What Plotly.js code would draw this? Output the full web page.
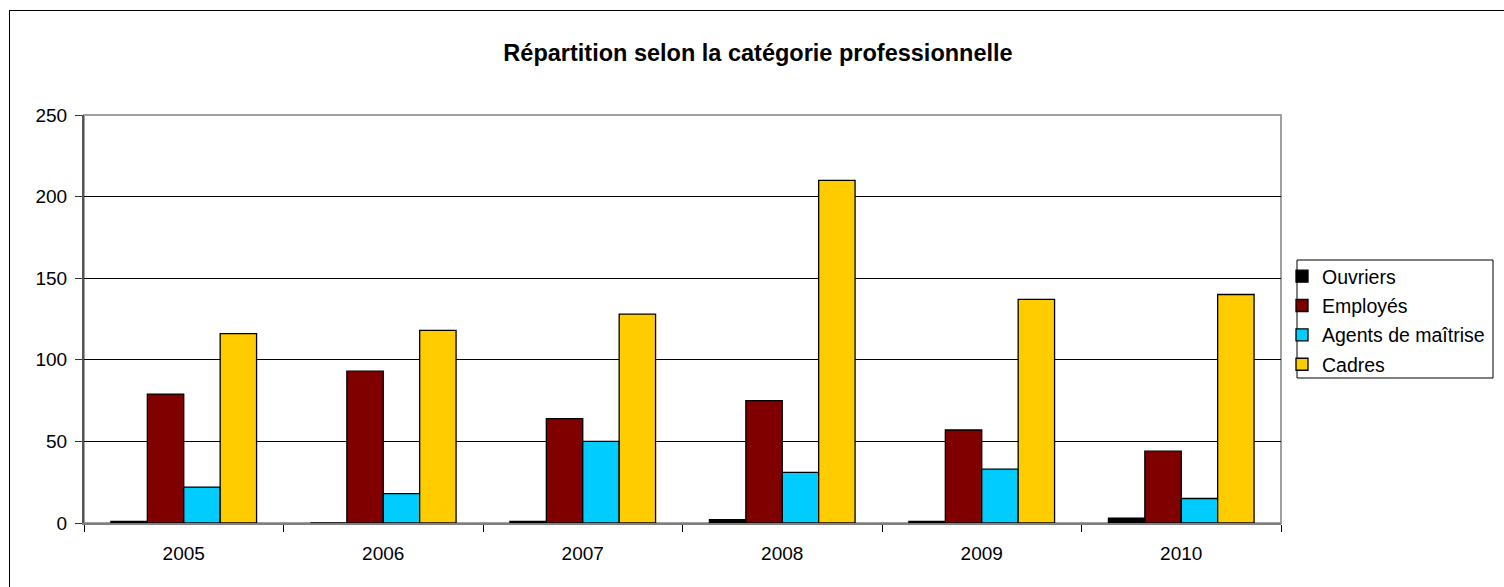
<!DOCTYPE html>
<html>
<head>
<meta charset="utf-8">
<script src="https://cdn.plot.ly/plotly-3.0.1.min.js"></script>
<style>
  html, body { margin: 0; padding: 0; width: 1504px; height: 587px; overflow: hidden; background: #fff; }
  #frame { position: absolute; left: 9px; top: 10px; width: 1510px; height: 600px; border: 1px solid #000; box-sizing: border-box; }
  #chart { position: absolute; left: 0; top: 0; width: 1504px; height: 587px; }
</style>
</head>
<body>
<div id="frame"></div>
<div id="chart"></div>
<script>
const years = ['2005', '2006', '2007', '2008', '2009', '2010'];
const ouvriers = [1, 0, 1, 2, 1, 3];
const employes = [79, 93, 64, 75, 57, 44];
const agents = [22, 18, 50, 31, 33, 15];
const cadres = [116, 118, 128, 210, 137, 140];
const seriesNames = ['Ouvriers', 'Employés', 'Agents de maîtrise', 'Cadres'];
const seriesColors = ['#000000', '#800000', '#00CCFF', '#FFCC00'];
const yTicks = [0, 50, 100, 150, 200, 250];

const allSeries = [ouvriers, employes, agents, cadres];
const traces = allSeries.map((vals, i) => ({
  type: 'bar',
  x: years,
  y: vals,
  name: seriesNames[i],
  legendgroup: 'g' + i,
  marker: { color: seriesColors[i], line: { color: '#000', width: 1.3 } },
  hoverinfo: 'x+y+name'
}));

const FONT = 'Liberation Sans, Arial, sans-serif';
const L = 84, T = 115, W = 1197, H = 408;
const px = v => (v - L) / W;
const py = v => (T + H - v) / H;

const layout = {
  width: 1504,
  height: 587,
  margin: { l: 84, r: 223, t: 115, b: 64 },
  paper_bgcolor: 'rgba(0,0,0,0)',
  plot_bgcolor: '#fff',
  barmode: 'group',
  bargap: 0.27,
  bargroupgap: 0,
  font: { family: FONT, color: '#000', size: 19 },
  title: {
    text: '<b>Répartition selon la catégorie professionnelle</b>',
    font: { family: FONT, size: 23.5, color: '#000' },
    x: 0.504, xref: 'container', xanchor: 'center',
    y: 1 - 53 / 587, yref: 'container', yanchor: 'middle'
  },
  xaxis: {
    type: 'category',
    showgrid: false,
    showline: true, linecolor: '#808080', linewidth: 2,
    ticks: 'outside', tickson: 'boundaries', ticklen: 7, tickcolor: '#000', tickwidth: 1,
    ticklabelstandoff: 12,
    tickfont: { size: 19 },
    zeroline: false
  },
  yaxis: {
    range: [0, 250],
    tickvals: yTicks,
    ticktext: yTicks.map(String),
    showgrid: true, gridcolor: '#000', gridwidth: 1,
    showline: true, linecolor: '#555', linewidth: 2,
    ticks: 'outside', ticklen: 7, tickcolor: '#333', tickwidth: 1,
    ticklabelstandoff: 4,
    tickfont: { size: 19 },
    zeroline: false,
    fixedrange: true
  },
  legend: {
    x: px(1282), xanchor: 'left',
    y: py(257), yanchor: 'top',
    borderwidth: 0,
    bgcolor: 'rgba(0,0,0,0)',
    font: { size: 19.5, family: FONT },
    tracegroupgap: 1,
    itemwidth: 30
  },
  shapes: [
    { type: 'rect', xref: 'paper', yref: 'paper', x0: 0, x1: 1, y0: 0, y1: 1,
      line: { color: '#a0a0a0', width: 2 }, fillcolor: 'rgba(0,0,0,0)', layer: 'below' },
    { type: 'rect', xref: 'paper', yref: 'paper', x0: px(1297), x1: px(1493), y0: py(378), y1: py(260),
      line: { color: '#000', width: 1 }, fillcolor: 'rgba(0,0,0,0)', layer: 'above' }
  ],
  showlegend: true
};

Plotly.newPlot('chart', traces, layout, { displayModeBar: false, staticPlot: true });
</script>
</body>
</html>
